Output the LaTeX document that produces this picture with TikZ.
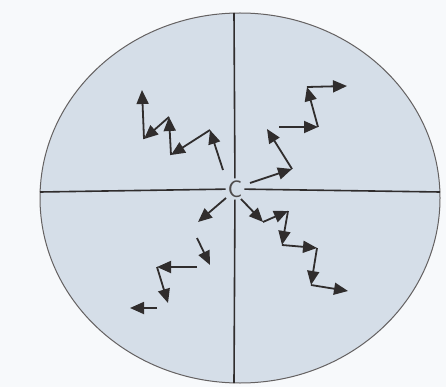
\documentclass[tikz,border=0pt]{standalone}
\usepackage{tikz}
\usetikzlibrary{arrows.meta}
\definecolor{plate}{RGB}{213,222,232}
\definecolor{paper}{RGB}{247,249,251}
\definecolor{ink}{RGB}{48,45,45}
\tikzset{dish/.style={draw=ink!75,fill=plate,line width=1pt},
 axis/.style={draw=ink,line width=1.6pt},
 walk/.style={-{Triangle[length=14pt,width=12pt]},draw=ink,line width=1.8pt},
 centre/.style={font=\fontsize{24}{24}\selectfont\sffamily,text=ink!85,inner sep=2pt}}

\begin{document}
\begin{tikzpicture}[x=1pt,y=-1pt]
\useasboundingbox (0,0) rectangle (446,387);
\fill[paper] (0,0) rectangle (446,387);
\draw[dish] (240,198) ellipse [x radius=200,y radius=185];
\node[centre] (c) at (235,189) {C};
\coordinate (top) at (234,13);
\coordinate (bot) at (234,383);
\coordinate (lft) at (40,192);
\coordinate (rgt) at (440,192);
\foreach \n in {top,bot,lft,rgt}{\draw[axis] (c)--(\n);}
% walk points, one quadrant each
\foreach \n/\x/\y in {nw0/223/170,nw1/210/130,nw2/171/155,nw3/169/117,nw4/144/139,nw5/142/90,
 ne0/250/183,ne1/292/169,ne2/267/129,ne3/279/127,ne4/318/127,ne5/307/87,ne6/347/86,
 se0/241/199,se1/263/222,se2/288/211,se3/282/245,se4/317/248,se5/311/285,se6/348/291,
 sw0/226/198,sw1/198/222,sw2/197/238,sw3/210/265,sw4/197/267,sw5/157/267,sw6/168/303,sw7/157/308,sw8/130/308}
 {\coordinate (\n) at (\x,\y);}
\foreach \a/\b in {nw0/nw1,nw1/nw2,nw2/nw3,nw3/nw4,nw4/nw5,
 ne0/ne1,ne1/ne2,ne3/ne4,ne4/ne5,ne5/ne6,
 se0/se1,se1/se2,se2/se3,se3/se4,se4/se5,se5/se6,
 sw0/sw1,sw2/sw3,sw4/sw5,sw5/sw6,sw7/sw8}
 {\draw[walk] (\a)--(\b);}
\end{tikzpicture}
\end{document}
